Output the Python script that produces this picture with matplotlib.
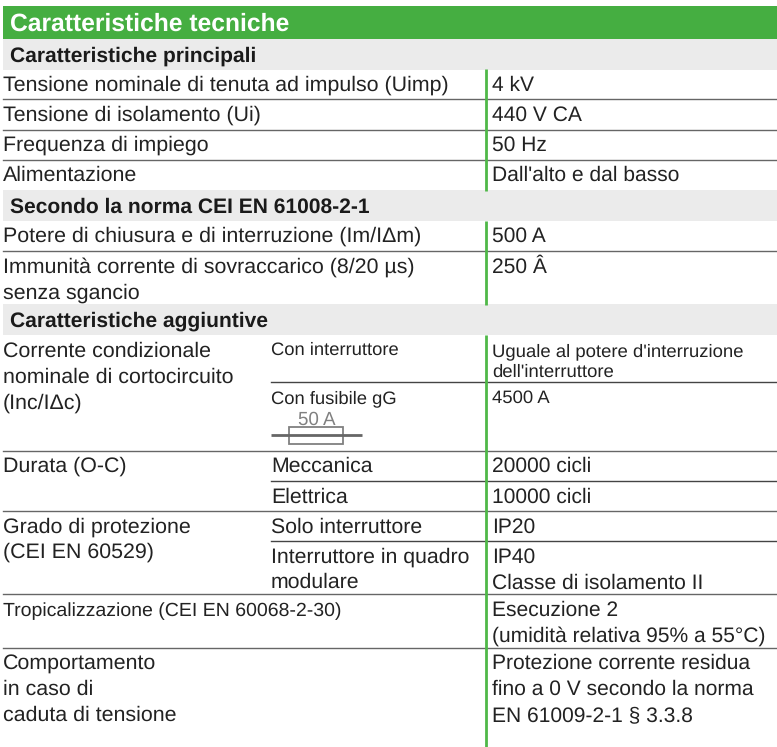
#!/usr/bin/python
import matplotlib
matplotlib.use("Agg")
import matplotlib.pyplot as plt
from matplotlib.patches import Rectangle

plt.rcParams['font.family'] = ['Liberation Sans', 'DejaVu Sans']
plt.rcParams['text.hinting'] = 'none'
plt.rcParams['text.hinting_factor'] = 8

title = "Caratteristiche tecniche"
sections = ["Caratteristiche principali", "Secondo la norma CEI EN 61008-2-1", "Caratteristiche aggiuntive"]

left_labels = ["Tensione nominale di tenuta ad impulso (Uimp)", "Tensione di isolamento (Ui)",
               "Frequenza di impiego", "Alimentazione",
               "Potere di chiusura e di interruzione (Im/I\u0394m)",
               "Immunit\u00e0 corrente di sovraccarico (8/20 \u00b5s)", "senza sgancio",
               "Corrente condizionale", "nominale di cortocircuito", "(Inc/I\u0394c)",
               "Durata (O-C)", "Grado di protezione", "(CEI EN 60529)",
               "Comportamento", "in caso di", "caduta di tensione"]
mid_labels = ["Meccanica", "Elettrica", "Solo interruttore", "Interruttore in quadro", "modulare"]
mid_small = ["Con interruttore", "Con fusibile gG"]
right_labels = ["4 kV", "440 V CA", "50 Hz", "Dall'alto e dal basso", "500 A", "250 \u00c2",
                "20000 cicli", "10000 cicli", "IP20", "IP40", "Classe di isolamento II",
                "Esecuzione 2", "(umidit\u00e0 relativa 95% a 55\u00b0C)",
                "Protezione corrente residua", "fino a 0 V secondo la norma", "EN 61009-2-1 \u00a7 3.3.8"]
right_small = ["Uguale al potere d'interruzione", "dell'interruttore", "4500 A"]
trop_label = "Tropicalizzazione (CEI EN 60068-2-30)"
fuse_label = "50 A"

# baselines, in pixels from the top
section_base = [62, 213, 327]
left_base = [91, 121, 151, 181, 242, 273, 299, 357, 383, 409, 472, 533, 558, 670, 695, 721]
mid_base = [472, 503, 533, 563, 588]
mid_small_base = [355, 403]
right_base = [91, 121, 151, 181, 242, 273, 472, 503, 533, 563, 589, 616, 642, 669, 695, 721]
right_small_base = [356, 377, 403]

full_lines = [99, 130, 160, 251, 451, 511, 594, 648]
part_lines = [382, 481, 541]

text_col = '#222222'

fig = plt.figure(figsize=(7.77, 7.47), dpi=100)
ax = fig.add_axes([0, 0, 1, 1])
ax.set_xlim(0, 777)
ax.set_ylim(747, 0)
ax.axis('off')

ax.add_patch(Rectangle((3, 6), 774, 33, color='#45ae41', lw=0))
ax.text(10, 31, title, color='white', fontsize=17.7, fontweight='bold')

for y in section_base:
    ax.add_patch(Rectangle((3, y - 23), 774, 30.5, color='#ebebeb', lw=0))
for s, y in zip(sections, section_base):
    ax.text(10, y, s, fontsize=15.1, fontweight='bold', color='#1a1a1a')

for y in full_lines:
    ax.plot([3, 777], [y, y], color='#666666', lw=1.0)
for y in part_lines:
    ax.plot([271, 777], [y, y], color='#444444', lw=1.0)

# green rule, cut by the grey bands
for y0, y1 in [(69, 191), (221, 305), (335, 747)]:
    ax.plot([486, 486], [y0, y1], color='#4fb848', lw=2, solid_capstyle='butt', zorder=3)

def put(labels, ys, x, size):
    for s, y in zip(labels, ys):
        ax.text(x, y, s, fontsize=size, color=text_col)

put(left_labels, left_base, 3, 15.4)
put(mid_labels, mid_base, 271, 15.3)
put(mid_small, mid_small_base, 271, 13.2)
put(right_labels, right_base, 492, 15.1)
put(right_small, right_small_base, 492, 13.3)
ax.text(3, 616, trop_label, fontsize=14.0, color=text_col)

# fuse symbol
ax.text(317, 425, fuse_label, fontsize=13.5, ha='center', color='#808080')
ax.plot([271, 362], [435, 435], color='#666666', lw=2, solid_capstyle='butt')
ax.add_patch(Rectangle((289, 427), 54, 17, fill=False, ec='#808080', lw=1.3))

fig.savefig("out.png", dpi=100)
